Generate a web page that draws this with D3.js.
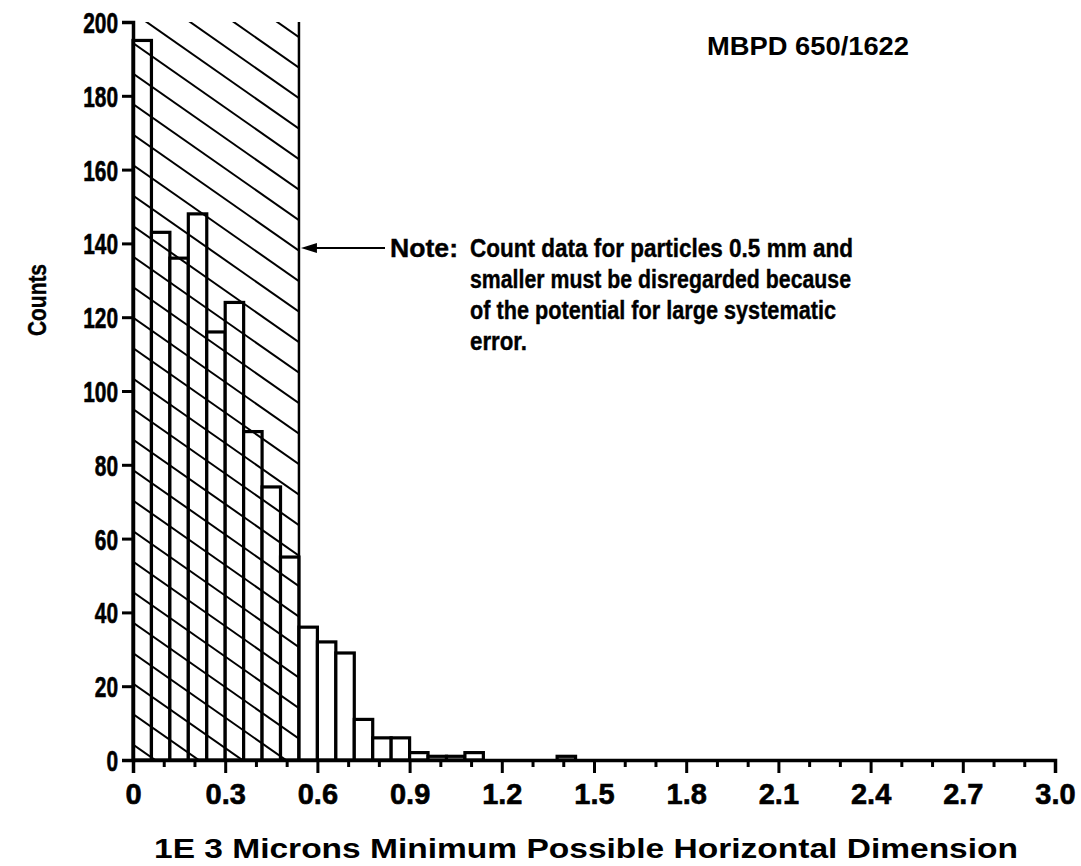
<!DOCTYPE html>
<html>
<head>
<meta charset="utf-8">
<script src="https://cdn.jsdelivr.net/npm/d3@7"></script>
<style>
  html, body { margin: 0; padding: 0; background: #fff; }
  svg { display: block; }
  text { font-family: "Liberation Sans", Arial, sans-serif; font-weight: bold; fill: #000; }
</style>
</head>
<body>
<script>
// ---------- data ----------
const binWidth = 0.06;               // 1E3 microns per bin
const counts = [195, 143, 136, 148, 116, 124, 89, 74, 55, 36, 32, 29, 11, 6, 6, 2, 1, 1, 2, 0, 0, 0, 0, 1];
const cutoff = 0.54;                 // hatched (disregarded) region upper bound
const yTicks = [0, 20, 40, 60, 80, 100, 120, 140, 160, 180, 200];
const xMajorTicks = [0, 0.3, 0.6, 0.9, 1.2, 1.5, 1.8, 2.1, 2.4, 2.7, 3.0];
const xMajorLabels = ["0", "0.3", "0.6", "0.9", "1.2", "1.5", "1.8", "2.1", "2.4", "2.7", "3.0"];
const xMinorTicks = [0.1, 0.2, 0.4, 0.5, 0.7, 0.8, 1.0, 1.1, 1.3, 1.4, 1.6, 1.7, 1.9, 2.0, 2.2, 2.3, 2.5, 2.6, 2.8, 2.9];
const noteLines = [
  "Count data for particles 0.5 mm and",
  "smaller must be disregarded because",
  "of the potential for large systematic",
  "error."
];
const noteLabel = "Note:";
const idLabel = "MBPD 650/1622";
const xTitle = "1E 3 Microns Minimum Possible Horizontal Dimension";
const yTitle = "Counts";

// ---------- layout ----------
const W = 1081, H = 866;
const x = d3.scaleLinear().domain([0, 3.0]).range([133, 1055]);
const y = d3.scaleLinear().domain([0, 200]).range([760, 22]);

function condense(sel, f) {
  sel.each(function () {
    const L = this.getComputedTextLength();
    if (L > 0) d3.select(this).attr("textLength", L * f).attr("lengthAdjust", "spacingAndGlyphs");
  });
}

const svg = d3.select("body").append("svg").attr("width", W).attr("height", H);

// bars
const bars = counts.map((c, i) => ({ x0: i * binWidth, x1: (i + 1) * binWidth, c }));
svg.append("g").selectAll("rect").data(bars.filter(d => d.c > 0)).join("rect")
  .attr("x", d => x(d.x0))
  .attr("y", d => y(d.c))
  .attr("width", d => x(d.x1) - x(d.x0))
  .attr("height", d => y(0) - y(d.c))
  .attr("fill", "#fff")
  .attr("stroke", "#000")
  .attr("stroke-width", 3.2);

// hatched region
const hx0 = x(0), hx1 = x(cutoff), hy0 = y(200), hy1 = y(0);
svg.append("clipPath").attr("id", "hclip").append("rect")
  .attr("x", hx0).attr("y", hy0).attr("width", hx1 - hx0).attr("height", hy1 - hy0);
const slope = 0.7, spacing = 30.5, phase = 43;
const hatch = [];
for (let k = -10; k < 30; k++) hatch.push(phase + spacing * k);
svg.append("g").attr("clip-path", "url(#hclip)").selectAll("line").data(hatch).join("line")
  .attr("x1", hx0).attr("y1", d => d)
  .attr("x2", hx1).attr("y2", d => d + slope * (hx1 - hx0))
  .attr("stroke", "#000").attr("stroke-width", 2);

// cutoff vertical line
svg.append("line")
  .attr("x1", hx1).attr("x2", hx1).attr("y1", hy0).attr("y2", hy1)
  .attr("stroke", "#000").attr("stroke-width", 2.5);

// axes
const yAxis = svg.append("g").attr("transform", `translate(${x(0)},0)`)
  .call(d3.axisLeft(y).tickValues(yTicks).tickSize(11).tickPadding(4).tickFormat(d3.format("d")));
const xMinor = svg.append("g").attr("transform", `translate(0,${y(0)})`)
  .call(d3.axisBottom(x).tickValues(xMinorTicks).tickSize(7).tickFormat(""));
const xMajor = svg.append("g").attr("transform", `translate(0,${y(0)})`)
  .call(d3.axisBottom(x).tickValues(xMajorTicks).tickSize(13).tickPadding(10)
    .tickFormat((d, i) => xMajorLabels[i]));
[yAxis, xMinor, xMajor].forEach(g => {
  g.select(".domain").attr("stroke-width", 3.5).attr("stroke", "#000");
  g.selectAll(".tick line").attr("stroke-width", 3).attr("stroke", "#000");
  g.selectAll(".tick text").attr("font-size", 29)
    .style("font-family", '"Liberation Sans", Arial, sans-serif')
    .style("font-weight", "bold").attr("fill", "#000")
    .attr("stroke", "#000").attr("stroke-width", 0.6);
});
xMinor.select(".domain").remove();
yAxis.selectAll(".tick text").attr("dy", "0.36em");
xMajor.selectAll(".tick text").attr("dy", "0.71em");
condense(yAxis.selectAll(".tick text"), 0.72);

// arrow + note
const arrowY = 248;
svg.append("line").attr("x1", 385).attr("x2", hx1 + 14).attr("y1", arrowY).attr("y2", arrowY)
  .attr("stroke", "#000").attr("stroke-width", 1.8);
svg.append("path")
  .attr("d", `M${hx1 + 2},${arrowY} L${hx1 + 18},${arrowY - 5} L${hx1 + 18},${arrowY + 5} Z`)
  .attr("fill", "#000");
svg.append("text").attr("x", 390).attr("y", 257).attr("font-size", 26)
  .attr("stroke", "#000").attr("stroke-width", 0.4)
  .attr("textLength", 68).attr("lengthAdjust", "spacingAndGlyphs").text(noteLabel);
const noteWidths = [383, 381, 366, 57];
svg.append("g").selectAll("text").data(noteLines).join("text")
  .attr("x", 470).attr("y", (d, i) => 257 + 31 * i)
  .attr("font-size", 26)
  .attr("stroke", "#000").attr("stroke-width", 0.4)
  .attr("textLength", (d, i) => noteWidths[i])
  .attr("lengthAdjust", "spacingAndGlyphs")
  .text(d => d);

svg.append("text").attr("x", 707).attr("y", 55).attr("font-size", 25)
  .attr("textLength", 202).attr("lengthAdjust", "spacingAndGlyphs").text(idLabel);

// titles
svg.append("text").attr("x", 586).attr("y", 858).attr("text-anchor", "middle")
  .attr("font-size", 28).attr("textLength", 864).attr("lengthAdjust", "spacingAndGlyphs")
  .text(xTitle);
svg.append("text").attr("transform", "translate(46,300) rotate(-90)")
  .attr("text-anchor", "middle").attr("font-size", 26)
  .attr("stroke", "#000").attr("stroke-width", 0.4)
  .attr("textLength", 72).attr("lengthAdjust", "spacingAndGlyphs").text(yTitle);
</script>
</body>
</html>
